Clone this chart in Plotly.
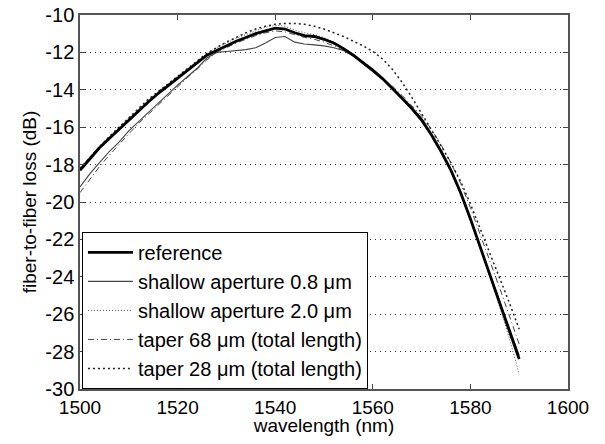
import plotly.graph_objects as go

wavelength = [1500, 1502, 1504, 1506, 1508, 1510, 1512, 1514, 1516, 1518,
              1520, 1522, 1524, 1526, 1528, 1530, 1532, 1534, 1536, 1538,
              1540, 1542, 1544, 1546, 1548, 1550, 1552, 1554, 1556, 1558,
              1560, 1562, 1564, 1566, 1568, 1570, 1572, 1574, 1576, 1578,
              1580, 1582, 1584, 1586, 1588, 1590]

reference = [-18.3, -17.7, -17.1, -16.6, -16.1, -15.6, -15.1, -14.65, -14.2, -13.8,
             -13.4, -13.0, -12.55, -12.15, -11.9, -11.65, -11.4, -11.2, -11.0, -10.85,
             -10.7, -10.75, -10.95, -11.1, -11.15, -11.3, -11.5, -11.8, -12.15, -12.55,
             -12.95, -13.4, -13.9, -14.45, -15.0, -15.6, -16.4, -17.3, -18.3, -19.5,
             -20.9, -22.4, -23.9, -25.4, -26.9, -28.4]

shallow_08 = [-19.2, -18.5, -17.9, -17.3, -16.8, -16.2, -15.7, -15.2, -14.7, -14.2,
              -13.75, -13.3, -12.85, -12.3, -12.0, -11.95, -11.9, -11.85, -11.75, -11.5,
              -11.2, -11.15, -11.45, -11.55, -11.6, -11.65, -11.75, -11.9, -12.2, -12.6,
              -13.0, -13.45, -13.95, -14.5, -15.05, -15.7, -16.45, -17.35, -18.35, -19.55,
              -20.95, -22.4, -23.85, -25.3, -26.75, -28.2]

shallow_20 = [-18.2, -17.6, -17.0, -16.5, -16.0, -15.5, -15.0, -14.55, -14.1, -13.7,
              -13.3, -12.9, -12.45, -12.05, -11.75, -11.5, -11.25, -11.05, -10.85, -10.65,
              -10.55, -10.6, -10.8, -10.95, -11.05, -11.2, -11.45, -11.75, -12.1, -12.5,
              -12.9, -13.35, -13.85, -14.4, -14.95, -15.55, -16.35, -17.25, -18.25, -19.45,
              -20.85, -22.4, -24.0, -25.6, -27.3, -29.2]

taper_68 = [-19.5, -18.8, -18.1, -17.5, -16.9, -16.35, -15.8, -15.3, -14.8, -14.3,
            -13.8, -13.35, -12.9, -12.4, -12.0, -11.75, -11.5, -11.3, -11.1, -10.95,
            -10.85, -10.9, -11.05, -11.2, -11.3, -11.45, -11.65, -11.9, -12.2, -12.55,
            -12.95, -13.35, -13.8, -14.3, -14.85, -15.4, -16.1, -16.95, -17.9, -19.0,
            -20.3, -21.7, -23.1, -24.6, -26.1, -27.6]

taper_28 = [-18.2, -17.6, -17.05, -16.5, -16.0, -15.5, -15.0, -14.5, -14.1, -13.7,
            -13.3, -12.9, -12.45, -12.05, -11.75, -11.45, -11.2, -10.95, -10.75, -10.6,
            -10.5, -10.45, -10.45, -10.5, -10.6, -10.75, -10.95, -11.15, -11.4, -11.65,
            -11.95, -12.35, -12.9, -13.6, -14.4, -15.25, -16.1, -17.0, -17.9, -18.9,
            -20.1, -21.4, -22.7, -24.0, -25.4, -26.8]

names = ["reference", "shallow aperture 0.8 μm", "shallow aperture 2.0 μm",
         "taper 68 μm (total length)", "taper 28 μm (total length)"]
x_ticks = [1500, 1520, 1540, 1560, 1580, 1600]
y_ticks = [-30, -28, -26, -24, -22, -20, -18, -16, -14, -12, -10]
y_tick_labels = ["-30", "-28", "-26", "-24", "-22", "-20", "-18", "-16", "-14", "-12", "-10"]

styles = [
    dict(color="black", width=2.8, dash="solid"),
    dict(color="#444444", width=1.1, dash="solid"),
    dict(color="#555555", width=1.0, dash="1px,2px"),
    dict(color="#444444", width=1.0, dash="6px,3px,1px,3px"),
    dict(color="#222222", width=1.5, dash="2px,3px"),
]
series = [reference, shallow_08, shallow_20, taper_68, taper_28]

fig = go.Figure()
order = [1, 2, 3, 4, 0]
for i in order:
    fig.add_trace(go.Scatter(x=wavelength, y=series[i], mode="lines", name=names[i],
                             line=styles[i], legendrank=i + 1))

font = "Liberation Sans, Arial, sans-serif"
fig.update_layout(
    width=589, height=428,
    margin=dict(l=72, r=29, t=7, b=47),
    paper_bgcolor="white", plot_bgcolor="white",
    font=dict(family=font, size=20, color="black"),
    showlegend=True,
    legend=dict(x=0.004, y=0.42, xanchor="left", yanchor="top",
                bgcolor="white", bordercolor="black", borderwidth=1,
                font=dict(size=20), tracegroupgap=0, itemwidth=45),
)
fig.update_xaxes(range=[1500, 1600], tickvals=x_ticks, ticks="inside", ticklen=5,
                 tickcolor="#444", showline=True, linecolor="#555", linewidth=1.5,
                 mirror="ticks", showgrid=False, zeroline=False, automargin=False,
                 tickfont=dict(size=19), ticklabeloverflow="allow",
                 title=dict(text="wavelength (nm)", font=dict(size=19), standoff=4))
fig.update_yaxes(range=[-30, -10], tickvals=y_ticks, ticktext=y_tick_labels,
                 ticks="inside", ticklen=5, ticklabeloverflow="allow",
                 tickcolor="#444", showline=True, linecolor="#555", linewidth=1.5,
                 mirror="ticks", showgrid=True, gridcolor="#333", griddash="1px,4px",
                 gridwidth=1, zeroline=False, tickfont=dict(size=20), automargin=False,
                 title=dict(text="fiber-to-fiber loss (dB)", font=dict(size=19), standoff=4))

fig.write_html("out.html")
